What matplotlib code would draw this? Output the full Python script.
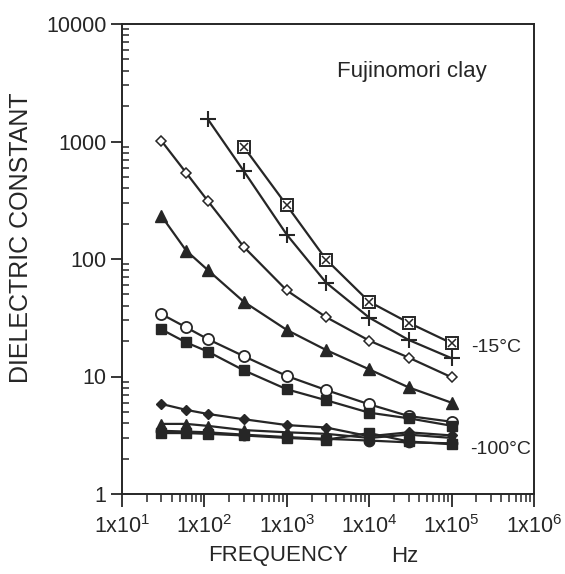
import matplotlib
matplotlib.use('Agg')
import matplotlib.pyplot as plt
import numpy as np
from matplotlib.ticker import FixedLocator, LogLocator, NullFormatter, FixedFormatter

plt.rcParams['font.family'] = ['Liberation Sans', 'DejaVu Sans']
plt.rcParams['mathtext.fontset'] = 'custom'
plt.rcParams['mathtext.rm'] = 'Liberation Sans'
plt.rcParams['mathtext.it'] = 'Liberation Sans'

# ---- data ----
freqs = [30, 60, 110, 300, 1000, 3000, 10000, 30000, 100000]

# series values (None where no measurement)
eps_m15 = [None, None, None, 900, 286, 99, 43.3, 28.7, 19.2]          # boxed square, -15 C
eps_m20 = [None, None, 1550, 561, 161, 62.9, 31.7, 20.5, 14.3]        # plus
eps_m25 = [1016, 542, 312, 127, 54, 32, 20.2, 14.5, 9.85]             # open diamond
eps_m30 = [233, 118, 80.5, 43.3, 24.9, 16.8, 11.5, 8.09, 5.98]        # filled triangle
eps_m40 = [34.0, 26.2, 20.8, 14.9, 10.1, 7.67, 5.8, 4.61, 4.12]       # open circle
eps_m50 = [25.2, 19.5, 16.3, 11.3, 7.78, 6.28, 4.92, 4.41, 3.81]      # filled square
eps_m60 = [5.84, 5.2, 4.8, 4.33, 3.86, 3.68, 3.1, 3.35, 3.15]         # filled diamond
eps_m70 = [3.95, 3.95, 3.8, 3.5, 3.35, 3.25, 3.0, 3.2, 3.0]           # filled triangle
eps_m80 = [3.45, 3.4, 3.35, 3.2, 3.05, 2.95, 2.85, 2.75, 2.7]         # filled circle
eps_m100 = [3.3, 3.3, 3.25, 3.15, 3.0, 2.9, 3.3, 2.8, 2.65]           # filled square, -100 C

x_tick_vals = [1e1, 1e2, 1e3, 1e4, 1e5, 1e6]
x_tick_labels = [r'1x10$^{1}$', r'1x10$^{2}$', r'1x10$^{3}$', r'1x10$^{4}$', r'1x10$^{5}$', r'1x10$^{6}$']
y_tick_vals = [1, 10, 100, 1000, 10000]
y_tick_labels = ['1', '10', '100', '1000', '10000']

title_text = 'Fujinomori clay'
label_top = '-15\u00b0C'
label_bottom = '-100\u00b0C'
xlabel_text = 'FREQUENCY'
xunit_text = 'Hz'
ylabel_text = 'DIELECTRIC CONSTANT'

# ---- figure ----
W, H = 565, 574
fig = plt.figure(figsize=(W / 100, H / 100), dpi=100)
fig.patch.set_facecolor('white')
ax = fig.add_axes([122 / W, 1 - 494 / H, (534 - 122) / W, (494 - 24) / H])
ax.set_xscale('log')
ax.set_yscale('log')
ax.set_xlim(10, 1e6)
ax.set_ylim(1, 1e4)

ink = '#262626'
lw = 1.6


def xy(vals):
    pts = [(f, v) for f, v in zip(freqs, vals) if v is not None]
    return [p[0] for p in pts], [p[1] for p in pts]


# boxed square with X
x, y = xy(eps_m15)
ax.plot(x, y, '-', color=ink, lw=lw, marker='s', ms=8.5, mfc='white', mec=ink, mew=1.4, zorder=3)
ax.plot(x, y, 'none', marker='x', ms=6, mec=ink, mew=1.1, ls='none', zorder=4)

x, y = xy(eps_m20)
ax.plot(x, y, '-', color=ink, lw=lw, marker='+', ms=11, mec=ink, mew=1.5, zorder=3)

x, y = xy(eps_m25)
ax.plot(x, y, '-', color=ink, lw=lw, marker='D', ms=5.5, mfc='white', mec=ink, mew=1.1, zorder=3)

x, y = xy(eps_m30)
ax.plot(x, y, '-', color=ink, lw=lw, marker='^', ms=8, mfc=ink, mec=ink, zorder=3)

x, y = xy(eps_m40)
ax.plot(x, y, '-', color=ink, lw=lw, marker='o', ms=8, mfc='white', mec=ink, mew=1.3, zorder=3)

x, y = xy(eps_m50)
ax.plot(x, y, '-', color=ink, lw=lw, marker='s', ms=7, mfc=ink, mec=ink, zorder=3)

x, y = xy(eps_m60)
ax.plot(x, y, '-', color=ink, lw=lw, marker='D', ms=5.5, mfc=ink, mec=ink, zorder=3)

x, y = xy(eps_m70)
ax.plot(x, y, '-', color=ink, lw=lw, marker='^', ms=7.5, mfc=ink, mec=ink, zorder=3)

x, y = xy(eps_m80)
ax.plot(x, y, '-', color=ink, lw=lw, marker='o', ms=7.5, mfc=ink, mec=ink, zorder=3)

x, y = xy(eps_m100)
ax.plot(x, y, '-', color=ink, lw=lw, marker='s', ms=7, mfc=ink, mec=ink, zorder=3)

# ---- axes styling ----
for s in ax.spines.values():
    s.set_color(ink)
    s.set_linewidth(1.4)

ax.xaxis.set_major_locator(FixedLocator(x_tick_vals))
ax.xaxis.set_major_formatter(FixedFormatter(x_tick_labels))
ax.xaxis.set_minor_locator(LogLocator(base=10, subs=np.arange(2, 10), numticks=20))
ax.xaxis.set_minor_formatter(NullFormatter())
ax.yaxis.set_major_locator(FixedLocator(y_tick_vals))
ax.yaxis.set_major_formatter(FixedFormatter(y_tick_labels))
ax.yaxis.set_minor_locator(LogLocator(base=10, subs=np.arange(2, 10), numticks=20))
ax.yaxis.set_minor_formatter(NullFormatter())

ax.tick_params(axis='x', which='major', direction='out', length=9, width=1.3, color=ink,
               labelsize=15.5, labelcolor=ink, pad=6, top=False)
ax.tick_params(axis='x', which='minor', direction='out', length=6, width=1.1, color=ink, top=False)
ax.tick_params(axis='y', which='major', direction='out', length=8, width=1.3, color=ink,
               labelsize=15.5, labelcolor=ink, pad=3, right=False)
ax.tick_params(axis='y', which='minor', direction='in', length=5, width=1.1, color=ink, right=False)

# ---- texts ----
fig.text(411.7 / W, 1 - 71.7 / H, title_text, ha='center', va='center', fontsize=16, color=ink)
fig.text(471 / W, 1 - 347 / H, label_top, ha='left', va='center', fontsize=14, color=ink)
fig.text(470 / W, 1 - 450 / H, label_bottom, ha='left', va='center', fontsize=14, color=ink)
fig.text(278 / W, 1 - 556 / H, xlabel_text, ha='center', va='center', fontsize=16, color=ink)
fig.text(405 / W, 1 - 556 / H, xunit_text, ha='center', va='center', fontsize=16, color=ink)
fig.text(21 / W, 1 - 238 / H, ylabel_text, ha='center', va='center', rotation=90, fontsize=18, color=ink)

fig.savefig('out.png', dpi=100, facecolor='white')
